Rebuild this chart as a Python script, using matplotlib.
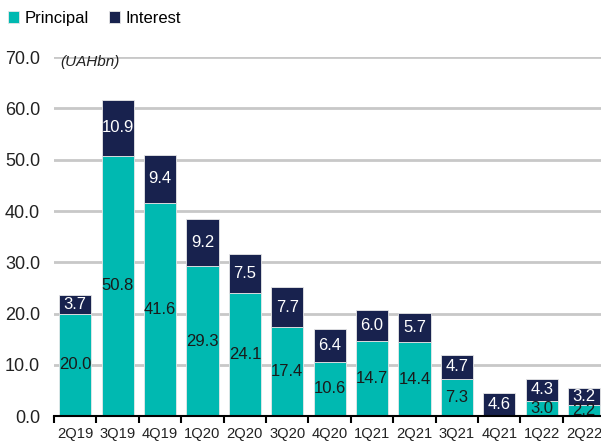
import matplotlib.pyplot as plt
import numpy as np

plt.rcParams['font.family'] = ['Liberation Sans', 'DejaVu Sans']

quarters = ['2Q19', '3Q19', '4Q19', '1Q20', '2Q20', '3Q20', '4Q20',
            '1Q21', '2Q21', '3Q21', '4Q21', '1Q22', '2Q22']
principal = [20.0, 50.8, 41.6, 29.3, 24.1, 17.4, 10.6, 14.7, 14.4, 7.3, 0.0, 3.0, 2.2]
interest = [3.7, 10.9, 9.4, 9.2, 7.5, 7.7, 6.4, 6.0, 5.7, 4.7, 4.6, 4.3, 3.2]

teal = '#00B9B1'
navy = '#18224E'

fig = plt.figure(figsize=(6.01, 4.47), dpi=100)
ax = fig.add_axes([0.09, 0.069, 0.91, 0.803])

index = np.arange(len(quarters))
ax.bar(index, principal, width=0.76, color=teal, edgecolor='#e8e8e8', linewidth=0.6,
       label='Principal', zorder=3)
ax.bar(index, interest, width=0.76, bottom=principal, color=navy, edgecolor='#e8e8e8',
       linewidth=0.6, label='Interest', zorder=3)

# valores dentro das barras
for i in index:
    if principal[i] > 0:
        ax.text(i, principal[i] / 2, f'{principal[i]:.1f}', ha='center', va='center',
                fontsize=12, color='#1a1a1a', zorder=4)
    ax.text(i, principal[i] + interest[i] / 2, f'{interest[i]:.1f}', ha='center',
            va='center', fontsize=12, color='white', zorder=4)

ax.set_ylim(0, 70)
ax.set_xlim(-0.5, 12.4)
ax.set_yticks(np.arange(0, 71, 10))
ax.set_yticklabels([f'{v:.1f}' for v in np.arange(0, 71, 10)], fontsize=13, color='#222222')
ax.yaxis.grid(True, color='#c8c8c8', linewidth=2, zorder=0)
ax.tick_params(axis='y', length=0, pad=10)

ax.set_xticks(index)
ax.set_xticklabels(quarters, fontsize=10.6, color='#222222')
ax.set_xticks(np.arange(-0.5, 12.5, 1), minor=True)
ax.tick_params(axis='x', which='major', length=0, pad=8)
ax.tick_params(axis='x', which='minor', length=5, width=1.5, color='black')

for s in ['top', 'right', 'left']:
    ax.spines[s].set_visible(False)
ax.spines['bottom'].set_linewidth(1.5)
ax.spines['bottom'].set_zorder(5)

ax.text(0.012, 0.986, '(UAHbn)', transform=ax.transAxes, fontsize=11, style='italic',
        color='#222222', ha='left', va='center')

fig.legend(loc='upper left', bbox_to_anchor=(-0.012, 1.01), ncol=2, frameon=False,
           fontsize=12, handlelength=0.7, handleheight=0.7, handletextpad=0.3,
           columnspacing=1.2)

fig.savefig('out.png', dpi=100)
